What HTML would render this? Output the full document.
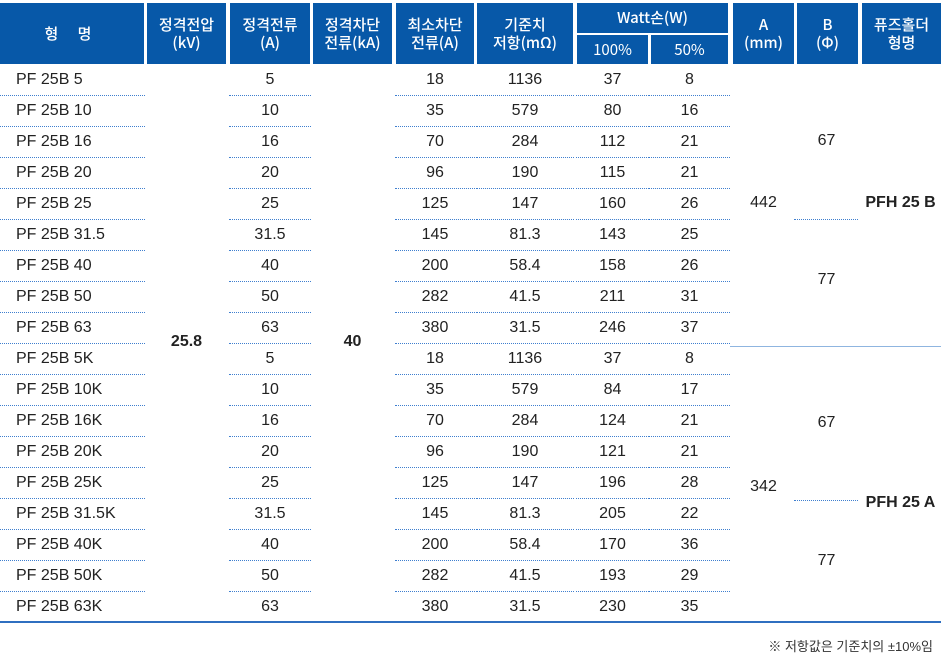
<!DOCTYPE html>
<html><head><meta charset="utf-8"><style>
body{margin:0;width:941px;height:659px;background:#fff;position:relative;overflow:hidden;font-family:"Liberation Sans","Noto Sans CJK KR",sans-serif;color:#222}
.h{position:absolute;background:#0758a8;color:#fff;font-size:15px;line-height:18px;text-align:center;display:flex;align-items:center;justify-content:center;font-family:"Noto Sans CJK KR","Liberation Sans",sans-serif;font-weight:500}
.c{position:absolute;top:65px}
.c div{height:30px;line-height:30px;border-bottom:1px dotted #3f7fcf;font-size:16px;text-align:center}
.c div:last-child{border-bottom:1px solid transparent}
.n div{text-align:left;padding-left:16px}
.s{position:absolute;font-size:16px;text-align:center}
</style></head><body>
<div class="h" style="left:0;top:3px;width:144px;height:61px;letter-spacing:8px">형 명</div>
<div class="h" style="left:147px;top:3px;width:79px;height:61px">정격전압<br>(kV)</div>
<div class="h" style="left:230px;top:3px;width:80px;height:61px">정격전류<br>(A)</div>
<div class="h" style="left:313px;top:3px;width:79px;height:61px">정격차단<br>전류(kA)</div>
<div class="h" style="left:396px;top:3px;width:78px;height:61px">최소차단<br>전류(A)</div>
<div class="h" style="left:477px;top:3px;width:96px;height:61px">기준치<br>저항(mΩ)</div>
<div class="h" style="left:577px;top:3px;width:151px;height:30px">Watt손(W)</div>
<div class="h" style="left:577px;top:35px;width:71px;height:29px;font-weight:normal">100%</div>
<div class="h" style="left:651px;top:35px;width:77px;height:29px;font-weight:normal">50%</div>
<div class="h" style="left:733px;top:3px;width:61px;height:61px">A<br>(mm)</div>
<div class="h" style="left:797px;top:3px;width:61px;height:61px">B<br>(Φ)</div>
<div class="h" style="left:862px;top:3px;width:79px;height:61px">퓨즈홀더<br>형명</div>

<div class="c n" style="left:0;width:145px"><div>PF 25B 5</div><div>PF 25B 10</div><div>PF 25B 16</div><div>PF 25B 20</div><div>PF 25B 25</div><div>PF 25B 31.5</div><div>PF 25B 40</div><div>PF 25B 50</div><div>PF 25B 63</div><div>PF 25B 5K</div><div>PF 25B 10K</div><div>PF 25B 16K</div><div>PF 25B 20K</div><div>PF 25B 25K</div><div>PF 25B 31.5K</div><div>PF 25B 40K</div><div>PF 25B 50K</div><div>PF 25B 63K</div></div>
<div class="c" style="left:229px;width:82px"><div>5</div><div>10</div><div>16</div><div>20</div><div>25</div><div>31.5</div><div>40</div><div>50</div><div>63</div><div>5</div><div>10</div><div>16</div><div>20</div><div>25</div><div>31.5</div><div>40</div><div>50</div><div>63</div></div>
<div class="c" style="left:395px;width:80px"><div>18</div><div>35</div><div>70</div><div>96</div><div>125</div><div>145</div><div>200</div><div>282</div><div>380</div><div>18</div><div>35</div><div>70</div><div>96</div><div>125</div><div>145</div><div>200</div><div>282</div><div>380</div></div>
<div class="c" style="left:476px;width:98px"><div>1136</div><div>579</div><div>284</div><div>190</div><div>147</div><div>81.3</div><div>58.4</div><div>41.5</div><div>31.5</div><div>1136</div><div>579</div><div>284</div><div>190</div><div>147</div><div>81.3</div><div>58.4</div><div>41.5</div><div>31.5</div></div>
<div class="c" style="left:576px;width:73px"><div>37</div><div>80</div><div>112</div><div>115</div><div>160</div><div>143</div><div>158</div><div>211</div><div>246</div><div>37</div><div>84</div><div>124</div><div>121</div><div>196</div><div>205</div><div>170</div><div>193</div><div>230</div></div>
<div class="c" style="left:649px;width:81px"><div>8</div><div>16</div><div>21</div><div>21</div><div>26</div><div>25</div><div>26</div><div>31</div><div>37</div><div>8</div><div>17</div><div>21</div><div>21</div><div>28</div><div>22</div><div>36</div><div>29</div><div>35</div></div>

<div class="s" style="left:147px;width:79px;top:333px;font-weight:bold">25.8</div>
<div class="s" style="left:313px;width:79px;top:333px;font-weight:bold">40</div>
<div class="s" style="left:733px;width:61px;top:194px">442</div>
<div class="s" style="left:733px;width:61px;top:478px">342</div>
<div class="s" style="left:795px;width:63px;top:132px">67</div>
<div class="s" style="left:795px;width:63px;top:271px">77</div>
<div class="s" style="left:795px;width:63px;top:414px">67</div>
<div class="s" style="left:795px;width:63px;top:552px">77</div>
<div class="s" style="left:860px;width:81px;top:194px;font-weight:bold">PFH 25 B</div>
<div class="s" style="left:860px;width:81px;top:494px;font-weight:bold">PFH 25 A</div>
<div style="position:absolute;left:794px;top:219px;width:64px;border-top:1px dotted #3f7fcf"></div>
<div style="position:absolute;left:794px;top:500px;width:64px;border-top:1px dotted #3f7fcf"></div>
<div style="position:absolute;left:730px;top:346px;width:211px;border-top:1px solid #8fb5e0"></div>
<div style="position:absolute;left:0;top:621px;width:941px;height:2px;background:#2f6fc0"></div>
<div style="position:absolute;right:8px;top:636px;font-size:13px;color:#333">※ 저항값은 기준치의 ±10%임</div>
</body></html>
